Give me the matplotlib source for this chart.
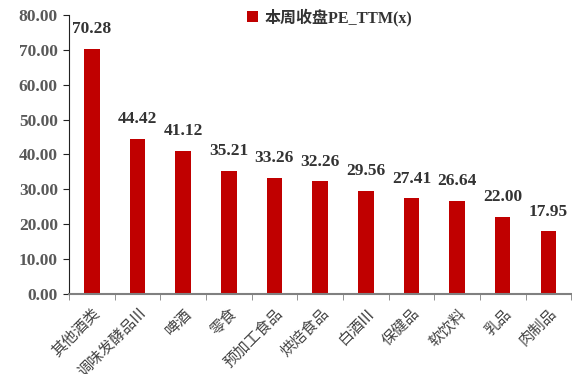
import matplotlib
matplotlib.use("Agg")
import matplotlib.pyplot as plt
import numpy as np

categories = ["其他酒类", "调味发酵品III", "啤酒", "零食", "预加工食品", "烘焙食品",
              "白酒III", "保健品", "软饮料", "乳品", "肉制品"]
pe_ttm = [70.28, 44.42, 41.12, 35.21, 33.26, 32.26, 29.56, 27.41, 26.64, 22.00, 17.95]
series_name = "本周收盘PE_TTM(x)"
yticks = [0, 10, 20, 30, 40, 50, 60, 70, 80]

serif = ["Liberation Serif", "Noto Sans CJK SC"]
cjk = ["Noto Sans CJK SC", "DejaVu Sans"]

fig = plt.figure(figsize=(5.72, 3.74), dpi=100)
ax = fig.add_axes([0.1206, 0.214, 0.878, 0.746])

x = np.arange(len(categories))
ax.bar(x, pe_ttm, width=0.34, color="#C00000", label=series_name, zorder=2)

for xi, v in zip(x, pe_ttm):
    ax.text(xi, v + 3.4, f"{v:.2f}", ha="center", va="bottom", fontsize=12.5,
            fontweight="bold", family=serif, color="#333333")

ax.set_xlim(-0.5, len(categories) - 0.5)
ax.set_ylim(0, 80)
ax.set_yticks(yticks)
ax.set_yticklabels([f"{t:.2f}" for t in yticks], family=serif, fontweight="bold",
                   fontsize=12.5, color="#595959")

ax.set_xticks(x)
ax.set_xticklabels(categories, rotation=45, ha="right", rotation_mode="anchor",
                   family=cjk, fontsize=11, color="#444444")
ax.set_xticks(np.arange(len(categories) + 1) - 0.5, minor=True)
ax.tick_params(axis="x", which="major", length=0, pad=8)
ax.tick_params(axis="x", which="minor", length=4, color="#808080", direction="out")
ax.tick_params(axis="y", length=4, color="#222222", direction="out", pad=4)

for s in ["top", "right"]:
    ax.spines[s].set_visible(False)
ax.spines["left"].set_color("#222222")
ax.spines["bottom"].set_color("#808080")
ax.spines["bottom"].set_linewidth(1.5)

leg = ax.legend(loc="upper left", bbox_to_anchor=(0.325, 1.075), frameon=False,
                handlelength=0.7, handleheight=0.7, handletextpad=0.4,
                prop={"family": serif, "weight": "bold", "size": 11.5})
for t in leg.get_texts():
    t.set_color("#333333")

fig.savefig("out.png", dpi=100)
